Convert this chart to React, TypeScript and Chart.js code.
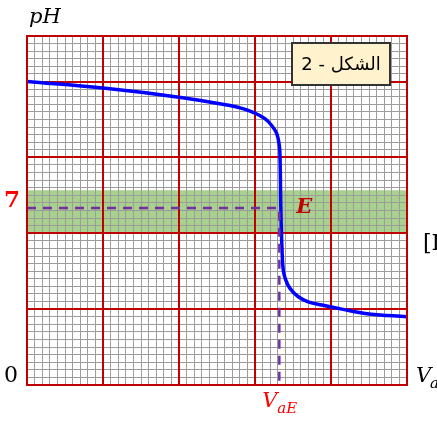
import { useEffect, useRef } from "react";
import { Chart, registerables } from "chart.js";

Chart.register(...registerables);

// Titration curve: volume of acid added (grid units) vs pH
const VA = [0, 10, 20, 26.7, 28.5, 30, 31.3, 32.2, 32.86, 33.2, 33.3, 33.4, 33.55, 33.72, 34.05, 34.6, 35.7, 37.0, 38.8, 41.6, 45, 50];
const PH = [12.0, 11.74, 11.38, 11.05, 10.92, 10.75, 10.53, 10.26, 9.94, 9.47, 8.88, 7.0, 5.4, 4.54, 4.15, 3.82, 3.49, 3.29, 3.16, 2.99, 2.81, 2.7];

// Equivalence point E and indicator zone
const VA_EQ = 33.2;
const PH_EQ = 7;
const ZONE = [6, 7.7];

// Axis ranges and graph-paper grid
const X_MAX = 50;
const Y_MAX = 13.8;
const X_MINOR_STEP = 1;
const Y_MINOR_STEP = 0.3;
const X_MAJOR = [0, 10, 20, 30, 40, 50];
const Y_MAJOR = [0, 3, 6, 9, 12, 13.8];

const FIGURE_LABEL = "الشكل - 2";

const RED = "#C00000";
const MINOR = "#9C9C9C";
const MATH_FONT = "'DejaVu Serif'";

const decorations = {
  id: "decorations",
  beforeDraw(chart: any) {
    const { ctx, chartArea } = chart;
    const y = chart.scales.y;
    const top = y.getPixelForValue(ZONE[1]);
    const bottom = y.getPixelForValue(ZONE[0]);
    ctx.save();
    ctx.fillStyle = "#A9D18E";
    ctx.fillRect(chartArea.left, top, chartArea.right - chartArea.left, bottom - top);
    ctx.restore();
  },
  afterDraw(chart: any) {
    const { ctx, chartArea } = chart;
    const xs = chart.scales.x;
    const ys = chart.scales.y;
    const xE = xs.getPixelForValue(VA_EQ);
    const y7 = ys.getPixelForValue(PH_EQ);
    const y0 = ys.getPixelForValue(0);
    ctx.save();

    // plot frame
    ctx.strokeStyle = RED;
    ctx.lineWidth = 2;
    ctx.strokeRect(chartArea.left, chartArea.top, chartArea.right - chartArea.left, chartArea.bottom - chartArea.top);

    ctx.textBaseline = "alphabetic";

    // pH axis title
    ctx.fillStyle = "#000";
    ctx.textAlign = "left";
    ctx.font = `italic 21px ${MATH_FONT}`;
    ctx.fillText("pH", chartArea.left + 2, 23);

    // origin
    ctx.textAlign = "right";
    ctx.font = `22px ${MATH_FONT}`;
    ctx.fillText("0", chartArea.left - 9, y0 - 3);

    // pH = 7 mark
    ctx.fillStyle = "#FF0000";
    ctx.font = `bold 23px ${MATH_FONT}`;
    ctx.fillText("7", chartArea.left - 7, y7 - 0.5);

    // E
    ctx.textAlign = "left";
    ctx.fillStyle = RED;
    ctx.font = `bold italic 21px ${MATH_FONT}`;
    ctx.fillText("E", xE + 17, y7 + 5);

    // V_aE
    ctx.fillStyle = "#FF0000";
    ctx.font = `italic 21px ${MATH_FONT}`;
    ctx.fillText("V", xE - 17, chartArea.bottom + 22);
    ctx.font = `italic 15px ${MATH_FONT}`;
    ctx.fillText("aE", xE - 2, chartArea.bottom + 28);

    // V_a axis title
    ctx.fillStyle = "#000";
    ctx.font = `italic 21px ${MATH_FONT}`;
    ctx.fillText("V", chartArea.right + 9, chartArea.bottom - 3);
    ctx.font = `italic 15px ${MATH_FONT}`;
    ctx.fillText("a", chartArea.right + 23, chartArea.bottom + 3);

    // unit
    ctx.font = `22px ${MATH_FONT}`;
    ctx.fillText("[L]", chartArea.right + 16, 250);

    // figure label box
    const bx = chartArea.right - 115;
    const by = chartArea.top + 7;
    const bw = 98;
    const bh = 42;
    ctx.fillStyle = "#FFF2CC";
    ctx.fillRect(bx, by, bw, bh);
    ctx.strokeStyle = "#333333";
    ctx.lineWidth = 2;
    ctx.strokeRect(bx, by, bw, bh);
    ctx.fillStyle = "#000";
    ctx.direction = "rtl";
    ctx.textAlign = "center";
    ctx.textBaseline = "middle";
    ctx.font = "18px 'DejaVu Sans'";
    ctx.fillText(FIGURE_LABEL, bx + bw / 2, by + bh / 2 + 1);

    ctx.restore();
  },
};

export default function App() {
  const ref = useRef<HTMLCanvasElement | null>(null);

  useEffect(() => {
    if (!ref.current) return;
    const curve = VA.map((v, i) => ({ x: v, y: PH[i] }));
    const guide = [
      { x: 0, y: PH_EQ },
      { x: VA_EQ, y: PH_EQ },
      { x: VA_EQ, y: 0 },
    ];
    const majorTicks = (vals: number[]) => (scale: any) => {
      scale.ticks = vals.map((v) => ({ value: v }));
    };
    const chart = new Chart(ref.current, {
      type: "line",
      data: {
        datasets: [
          {
            data: guide,
            borderColor: "#7030A0",
            borderWidth: 2.5,
            borderDash: [9, 7],
            pointRadius: 0,
            tension: 0,
            fill: false,
            order: 0,
          },
          {
            data: curve,
            borderColor: "#0000FF",
            borderWidth: 3.5,
            pointRadius: 0,
            tension: 0.4,
            fill: false,
            order: 1,
          },
        ],
      },
      options: {
        animation: false,
        responsive: false,
        maintainAspectRatio: false,
        devicePixelRatio: 1,
        parsing: false,
        layout: { padding: { left: 27, top: 36, right: 30, bottom: 36 } },
        plugins: { legend: { display: false }, tooltip: { enabled: false } },
        scales: {
          x: {
            type: "linear",
            min: 0,
            max: X_MAX,
            ticks: { display: false, stepSize: X_MINOR_STEP },
            grid: { color: MINOR, lineWidth: 1, drawTicks: false, z: -2 },
            border: { display: false },
          },
          x2: {
            type: "linear",
            position: "bottom",
            min: 0,
            max: X_MAX,
            afterBuildTicks: majorTicks(X_MAJOR),
            ticks: { display: false },
            grid: { color: RED, lineWidth: 2, drawTicks: false, z: -1 },
            border: { display: false },
          },
          y: {
            type: "linear",
            min: 0,
            max: Y_MAX,
            ticks: { display: false, stepSize: Y_MINOR_STEP },
            grid: { color: MINOR, lineWidth: 1, drawTicks: false, z: -2 },
            border: { display: false },
          },
          y2: {
            type: "linear",
            position: "left",
            min: 0,
            max: Y_MAX,
            afterBuildTicks: majorTicks(Y_MAJOR),
            ticks: { display: false },
            grid: { color: RED, lineWidth: 2, drawTicks: false, z: -1 },
            border: { display: false },
          },
        },
      },
      plugins: [decorations],
    } as any);
    return () => chart.destroy();
  }, []);

  return (
    <div style={{ position: "absolute", left: 0, top: 0, width: 437, height: 421 }}>
      <canvas ref={ref} width={437} height={421} />
    </div>
  );
}
